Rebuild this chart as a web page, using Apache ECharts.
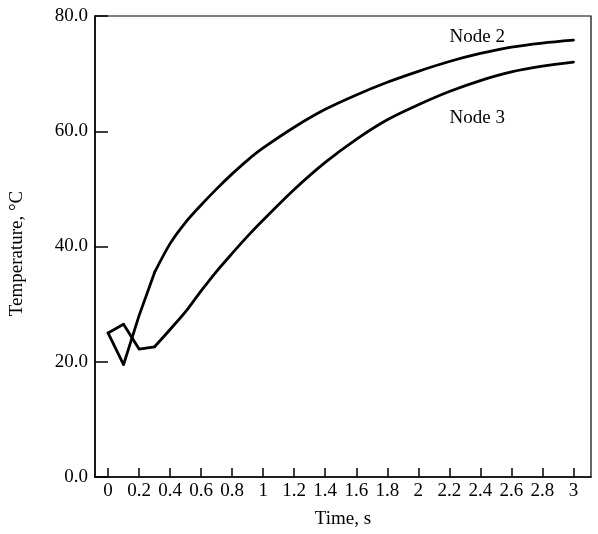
<!DOCTYPE html>
<html>
<head>
<meta charset="utf-8">
<script src="https://cdn.jsdelivr.net/npm/echarts@6/dist/echarts.min.js"></script>
<style>
  html, body { margin: 0; padding: 0; background: #fff; }
  #chart { width: 598px; height: 534px; }
</style>
</head>
<body>
<div id="chart"></div>
<script>
const times = [0, 0.1, 0.2, 0.3, 0.4, 0.5, 0.6, 0.7, 0.8, 0.9, 1.0,
  1.2, 1.4, 1.6, 1.8, 2.0, 2.2, 2.4, 2.6, 2.8, 3.0];
const node2 = [25, 19.5, 28, 35.5, 40.5, 44.2, 47.2, 50.0, 52.6, 55.0, 57.1,
  60.7, 63.8, 66.3, 68.5, 70.4, 72.1, 73.5, 74.6, 75.3, 75.8];
const node3 = [25, 26.5, 22.2, 22.6, 25.6, 28.7, 32.3, 35.7, 38.8, 41.8, 44.6,
  49.9, 54.6, 58.6, 62.0, 64.6, 66.9, 68.8, 70.3, 71.3, 72.0];
const xTicks = [0, 0.2, 0.4, 0.6, 0.8, 1, 1.2, 1.4, 1.6, 1.8, 2,
  2.2, 2.4, 2.6, 2.8, 3];
const seriesNames = ["Node 2", "Node 3"];
const labelCoords = [[2.38, 76.4], [2.38, 62.3]];

const font = "Liberation Serif";
// the first steps are straight segments, the rest is a smooth curve
const kinkEnd = 3;

function pairs(ys, from, to) {
  return times.slice(from, to).map((t, i) => [t, ys[from + i]]);
}

const lineStyle = { color: "#000", width: 2.8, join: "round", cap: "round" };

const series = [];
[node2, node3].forEach((ys, i) => {
  series.push({
    type: "line",
    data: pairs(ys, 0, kinkEnd + 1),
    showSymbol: false,
    smooth: false,
    lineStyle: lineStyle
  });
  series.push({
    name: seriesNames[i],
    type: "line",
    data: pairs(ys, kinkEnd, times.length),
    showSymbol: false,
    smooth: 0.3,
    lineStyle: lineStyle,
    markPoint: {
      symbol: "circle",
      symbolSize: 1,
      itemStyle: { color: "rgba(0,0,0,0)" },
      label: {
        show: true, formatter: seriesNames[i], position: "inside",
        fontFamily: font, fontSize: 19, color: "#000"
      },
      data: [{ coord: labelCoords[i] }]
    }
  });
});

const chart = echarts.init(document.getElementById("chart"), null, { renderer: "canvas" });

chart.setOption({
  animation: false,
  backgroundColor: "#fff",
  grid: {
    left: 93, right: 7, top: 16, bottom: 50,
    show: true, borderColor: "#000", borderWidth: 1.2
  },
  xAxis: {
    type: "value",
    min: -0.084,
    max: 3.113,
    name: "Time, s",
    nameLocation: "middle",
    nameGap: 33,
    nameTextStyle: { fontFamily: font, fontSize: 19, color: "#000" },
    axisLine: { show: true, onZero: false, lineStyle: { color: "#000", width: 1.5 } },
    axisTick: {
      show: true, inside: true, length: 9, customValues: xTicks,
      lineStyle: { color: "#000", width: 1.5 }
    },
    axisLabel: {
      customValues: xTicks,
      fontFamily: font, fontSize: 19, color: "#000", margin: 5,
      formatter: (v) => String(Math.round(v * 10) / 10)
    },
    splitLine: { show: false }
  },
  yAxis: {
    type: "value",
    min: 0,
    max: 80,
    interval: 20,
    name: "Temperature, °C",
    nameLocation: "middle",
    nameGap: 68,
    nameTextStyle: { fontFamily: font, fontSize: 19, color: "#000", padding: [0, 0, 0, -14] },
    axisLine: { show: true, onZero: false, lineStyle: { color: "#000", width: 1.5 } },
    axisTick: { show: true, inside: true, length: 13, lineStyle: { color: "#000", width: 1.5 } },
    axisLabel: {
      fontFamily: font, fontSize: 19, color: "#000", margin: 7,
      formatter: (v) => v.toFixed(1)
    },
    splitLine: { show: false }
  },
  series: series
});
</script>
</body>
</html>
